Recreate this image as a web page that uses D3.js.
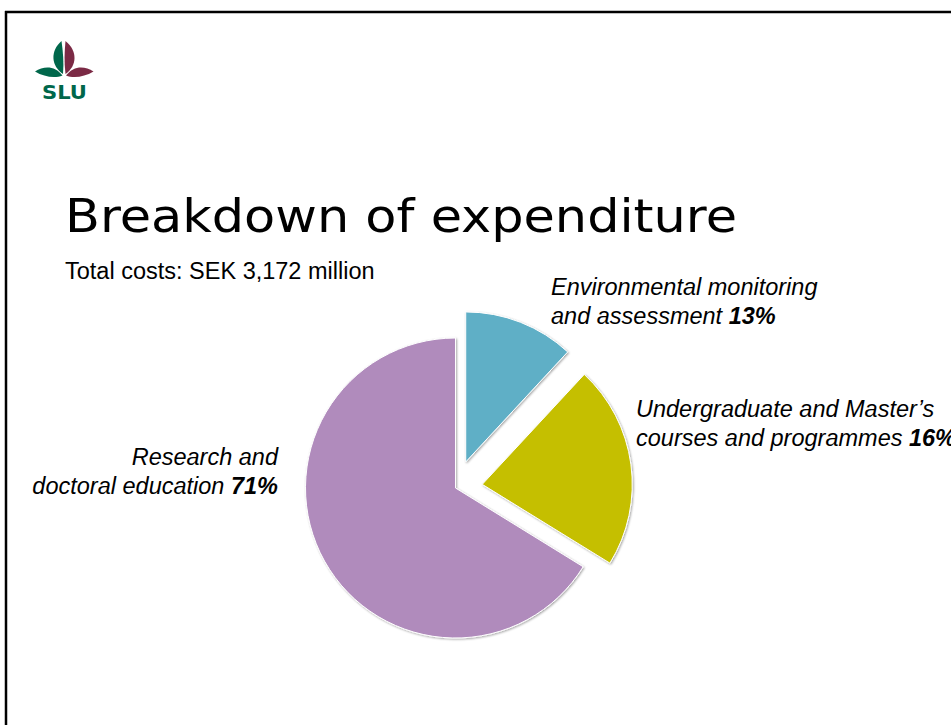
<!DOCTYPE html>
<html lang="en">
<head>
  <meta charset="UTF-8">
  <title>Breakdown of expenditure</title>
  <script src="https://cdn.jsdelivr.net/npm/d3@7"></script>
  <style>
    body{ margin: 0; background: #fff; }
    svg{ display: block; font-family: "Liberation Sans", Arial, sans-serif; }
    .label{ font-size: 23.5px; font-style: italic; fill: #000; }
    .label .pct{ font-weight: bold; }
  </style>
</head>
<body>
  <script>
    // data (slice shares as drawn in the pie, labels as printed)
    const categories = ['Environmental monitoring and assessment', "Undergraduate and Master's courses and programmes", 'Research and doctoral education'];
    const sliceShares = [11.9, 21.9, 66.2];
    const pctLabels = ['13%', '16%', '71%'];
    const labelLines = [
      ['Environmental monitoring', 'and assessment '],
      ['Undergraduate and Master\u2019s', 'courses and programmes '],
      ['Research and', 'doctoral education ']
    ];
    const colors = ['#5fafc6', '#c5bf00', '#b08bbc'];

    const width = 951, height = 725;
    const cx = 455.5, cy = 488, radius = 150, explode = [28, 27, 0];

    const svg = d3.select('body').append('svg')
      .attr('width', width).attr('height', height);

    const defs = svg.append('defs');
    defs.append('filter').attr('id', 'shadow')
      .attr('x', '-10%').attr('y', '-10%').attr('width', '120%').attr('height', '120%')
      .append('feDropShadow')
      .attr('dx', 1).attr('dy', 1).attr('stdDeviation', 1)
      .attr('flood-color', '#000').attr('flood-opacity', 0.35);

    // slide frame
    svg.append('line').attr('x1', 6).attr('x2', 6).attr('y1', 11).attr('y2', height)
      .attr('stroke', '#000').attr('stroke-width', 2.5);
    svg.append('line').attr('x1', 5).attr('x2', width).attr('y1', 12).attr('y2', 12)
      .attr('stroke', '#000').attr('stroke-width', 2.5);

    // SLU logo
    const logo = svg.append('g');
    logo.append('path').attr('fill', '#00674b')
      .attr('d', 'M63,74 C51,66 50,51 61.5,41 C63,52 64,62 63,74 Z');
    logo.append('path').attr('fill', '#7b2a45')
      .attr('d', 'M65.5,74 C77,66 78,51 65.5,41 C64.5,52 64,62 65.5,74 Z');
    logo.append('path').attr('fill', '#00674b')
      .attr('d', 'M62.5,75.5 C55,65.5 44,65.5 35,71.5 C44,77 55,78.5 62.5,75.5 Z');
    logo.append('path').attr('fill', '#7b2a45')
      .attr('d', 'M66,75.5 C73.5,65.5 84.5,65.5 93.5,71.5 C84.5,77 73.5,78.5 66,75.5 Z');
    logo.append('text').attr('x', 42).attr('y', 99)
      .attr('textLength', 45).attr('lengthAdjust', 'spacingAndGlyphs')
      .attr('fill', '#00674b').attr('font-size', 19).attr('font-weight', 'bold')
      .attr('font-family', 'DejaVu Sans')
      .text('SLU');

    // titles
    svg.append('text').attr('x', 65).attr('y', 232)
      .attr('font-size', 46).attr('font-family', '"DejaVu Sans", sans-serif')
      .attr('textLength', 672).attr('lengthAdjust', 'spacingAndGlyphs')
      .attr('fill', '#000')
      .text('Breakdown of expenditure');
    svg.append('text').attr('x', 65).attr('y', 279)
      .attr('font-size', 23.5).attr('fill', '#000')
      .text('Total costs: SEK 3,172 million');

    // pie
    const pie = d3.pie().sort(null).value(d => d);
    const arc = d3.arc().innerRadius(0).outerRadius(radius);
    const arcs = pie(sliceShares);

    svg.append('g').attr('transform', `translate(${cx},${cy})`)
      .selectAll('path').data(arcs).enter().append('path')
      .attr('transform', (d, i) => {
        const a = (d.startAngle + d.endAngle) / 2;
        return `translate(${explode[i] * Math.sin(a)},${-explode[i] * Math.cos(a)})`;
      })
      .attr('d', arc)
      .attr('fill', (d, i) => colors[i])
      .attr('stroke', '#fff').attr('stroke-width', 1)
      .attr('filter', 'url(#shadow)')
      .append('title').text((d, i) => categories[i]);

    // labels
    const labelPos = [
      { x: 551, y: 295, anchor: 'start' },
      { x: 636, y: 417, anchor: 'start' },
      { x: 278, y: 465, anchor: 'end' }
    ];
    labelLines.forEach((lines, i) => {
      const t = svg.append('text').attr('class', 'label')
        .attr('text-anchor', labelPos[i].anchor);
      t.append('tspan').attr('x', labelPos[i].x).attr('y', labelPos[i].y).text(lines[0]);
      const second = t.append('tspan').attr('x', labelPos[i].x).attr('y', labelPos[i].y + 29);
      second.append('tspan').text(lines[1]);
      second.append('tspan').attr('class', 'pct').text(pctLabels[i]);
    });
  </script>
</body>
</html>
